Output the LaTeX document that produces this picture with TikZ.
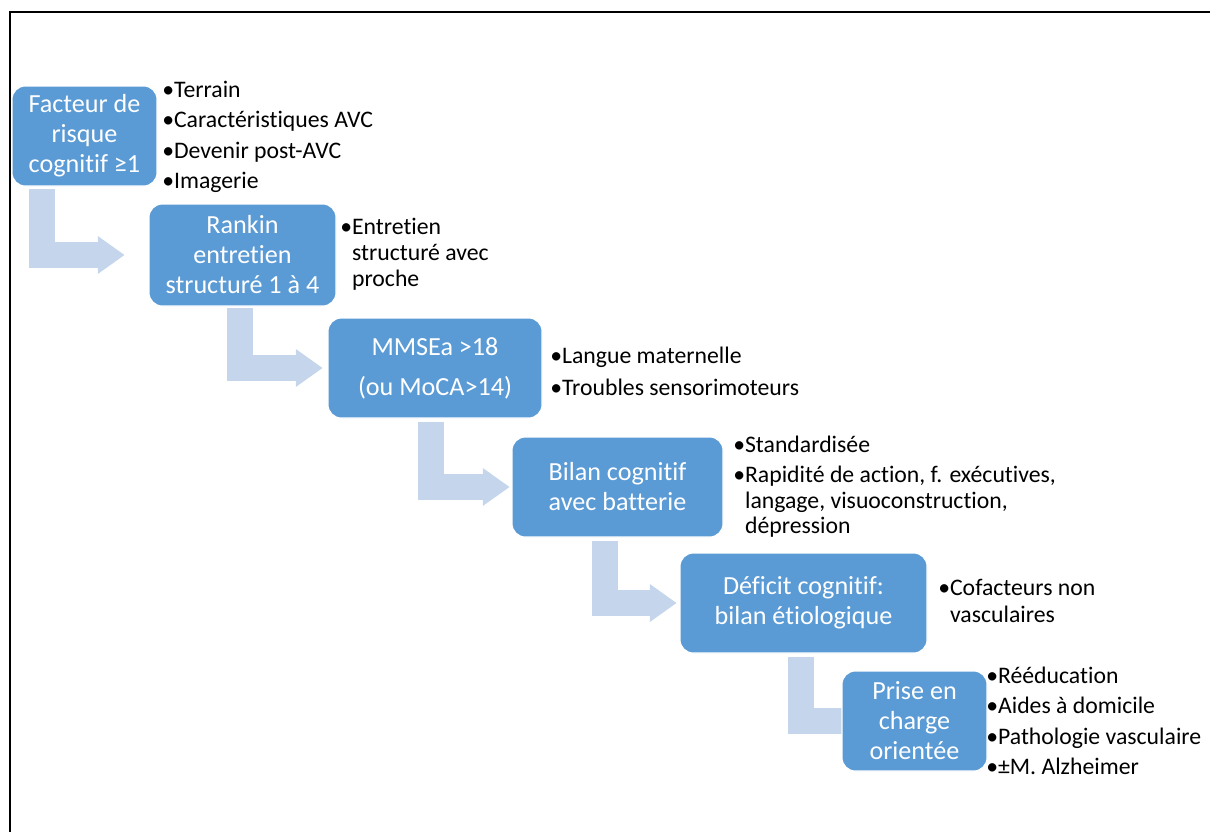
\documentclass[tikz,border=0pt]{standalone}
\usepackage{fontspec}
\setmainfont{Carlito}[Ligatures={NoCommon,TeX}]
\usetikzlibrary{arrows.meta}
\usetikzlibrary{positioning,calc}
\definecolor{boxblue}{RGB}{91,155,213}
\definecolor{arrowblue}{RGB}{197,214,236}
\pgfdeclarelayer{bg}
\pgfsetlayers{bg,main}

\begin{document}
\begin{tikzpicture}[x=0.75pt,y=-0.75pt,
    stepbox/.style={rectangle, rounded corners=10pt, fill=boxblue, draw=white, line width=0.8pt,
        text=white, align=center, inner sep=0pt, minimum height=75pt,
        font=\fontsize{19.6}{22.5}\selectfont},
    item/.style={anchor=base west, inner sep=0pt, font=\fontsize{17.8}{19.5}\selectfont},
    flow/.style={draw=arrowblue, line width=19.5pt,
        -{Triangle[length=20pt,width=28.5pt,line width=0pt]}}]
    \useasboundingbox (0,0) rectangle (1210,832);
    \draw[line width=1.5pt] (10,832) -- (10,12) -- (1210,12);

    % steps
    \node[stepbox, minimum width=108.75pt] (b1) at (84.5,136) {Facteur de\\risque\\cognitif ≥1};
    \node[stepbox, minimum width=140.25pt, minimum height=76.5pt] (b2) at (242.5,255) {Rankin\\entretien\\structuré 1 à 4};
    \node[stepbox, minimum width=160.5pt] (b3) at (435,368) {MMSEa >18\\[7.5pt](ou MoCA>14)};
    \node[stepbox, minimum width=158.25pt] (b4) at (617.5,487) {Bilan cognitif\\avec batterie};
    \node[stepbox, minimum width=185.25pt] (b5) at (803.5,603) {Déficit cognitif:\\bilan étiologique};
    \node[stepbox, minimum width=108.75pt] (b6) at (914.5,721) {Prise en\\charge\\orientée};

    % bullets
    \foreach \t [count=\i from 0] in {Terrain, Caractéristiques AVC, Devenir post-AVC, Imagerie}
        \node[item] (r\i) at (162,97+30.5*\i) {•\t};
    \node[item] (e1) at (340,234) {•Entretien};
    \node[item] (e2) at (340,260) {\phantom{•}structuré avec};
    \node[item] (e3) at (340,286) {\phantom{•}proche};
    \node[item] (m1) at (550,363) {•Langue maternelle};
    \node[item] (m2) at (550,395) {•Troubles sensorimoteurs};
    \node[item] (t1) at (733,452) {•Standardisée};
    \node[item] (t2) at (733,482) {•Rapidité de action, f. exécutives,};
    \node[item] (t3) at (733,508) {\phantom{•}langage, visuoconstruction,};
    \node[item] (t4) at (733,533) {\phantom{•}dépression};
    \node[item] (c1) at (938,595) {•Cofacteurs non};
    \node[item] (c2) at (938,622) {\phantom{•}vasculaires};
    \foreach \t [count=\i from 0] in {Rééducation, Aides à domicile, Pathologie vasculaire, ±M. Alzheimer}
        \node[item] (p\i) at (986,683+30.5*\i) {•\t};

    % bent arrows
    \coordinate (s1) at (42,189);
    \coordinate (s2) at (240,308);
    \coordinate (s3) at (431,422);
    \coordinate (s4) at (605,541);
    \coordinate (s5) at (801,657);
    \begin{pgfonlayer}{bg}
        \draw[flow] (s1) |- ([xshift=-18pt]b2.west);
        \draw[flow] (s2) |- ([xshift=-3.75pt]b3.west);
        \draw[flow] (s3) |- ([xshift=-1.5pt]b4.west);
        \draw[flow] (s4) |- ([xshift=-2.25pt]b5.west);
        \draw[flow] (s5) |- ([xshift=22pt]b6.west);
    \end{pgfonlayer}
\end{tikzpicture}
\end{document}
